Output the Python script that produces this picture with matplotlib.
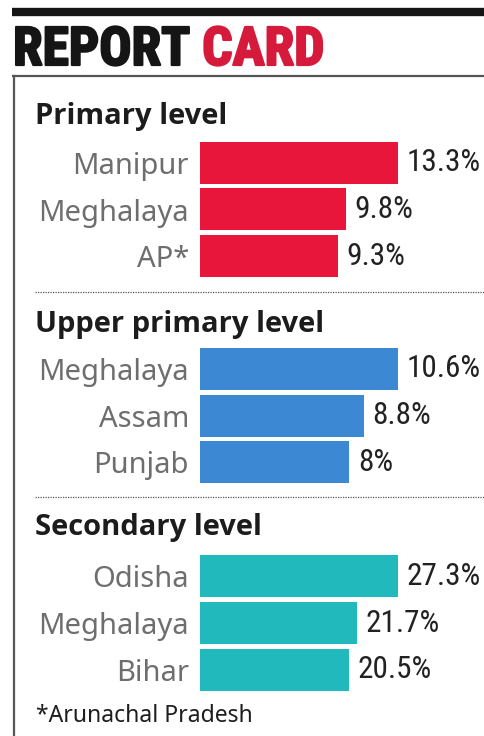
import matplotlib
matplotlib.use("Agg")
import matplotlib.pyplot as plt
import matplotlib.patheffects as pe
from matplotlib.lines import Line2D
from matplotlib import font_manager

# data
primary_states = ["Manipur", "Meghalaya", "AP*"]
primary_values = [13.3, 9.8, 9.3]
upper_states = ["Meghalaya", "Assam", "Punjab"]
upper_values = [10.6, 8.8, 8.0]
secondary_states = ["Odisha", "Meghalaya", "Bihar"]
secondary_values = [27.3, 21.7, 20.5]
value_labels_primary = ["13.3%", "9.8%", "9.3%"]
value_labels_upper = ["10.6%", "8.8%", "8%"]
value_labels_secondary = ["27.3%", "21.7%", "20.5%"]

W, H = 485, 736
fig = plt.figure(figsize=(W / 100, H / 100), dpi=100)
fig.patch.set_facecolor("white")


def has_bold(name):
    return any(f.name == name and f.weight >= 700
               for f in font_manager.fontManager.ttflist)


# heading font: wide-ish bold sans
HEAD = "DejaVu Sans"
for cand in ["Open Sans", "Noto Sans", "Roboto"]:
    if has_bold(cand):
        HEAD = cand
        break

COND = ["Roboto Condensed", "DejaVu Sans"]


def fx(px):
    return px / W


def fy(py):
    return 1 - py / H


def hline(x0, x1, y, **kw):
    fig.add_artist(Line2D([fx(x0), fx(x1)], [fy(y), fy(y)],
                          transform=fig.transFigure, **kw))


# top rule + title
hline(12, 485, 12, color="#151515", lw=6, solid_capstyle="butt")
t1 = fig.text(fx(13), fy(65), "REPORT", family=COND, weight="bold",
              fontsize=38.5, color="#151515", va="baseline")
t1.set_path_effects([pe.withStroke(linewidth=1.6, foreground="#151515")])
fig.canvas.draw()
x_end = t1.get_window_extent().x1
t2 = fig.text(fx(x_end + 12), fy(65), "CARD", family=COND, weight="bold",
              fontsize=38.5, color="#d61a3c", va="baseline")
t2.set_path_effects([pe.withStroke(linewidth=1.6, foreground="#d61a3c")])

# box
hline(12, 485, 76, color="#555555", lw=1.6, solid_capstyle="butt")
fig.add_artist(Line2D([fx(13.5), fx(13.5)], [fy(75.5), fy(736)],
                      transform=fig.transFigure, color="#555555", lw=1.6))

# dotted separators
for y in [292, 497]:
    hline(35, 485, y, color="#555555", lw=0.9, linestyle=(0, (1, 1)))

panels = [
    ("Primary level", 124, 139.5, primary_states, primary_values,
     value_labels_primary, "#e8163a"),
    ("Upper primary level", 332, 345.5, upper_states, upper_values,
     value_labels_upper, "#3c88d2"),
    ("Secondary level", 535, 553, secondary_states, secondary_values,
     value_labels_secondary, "#21b9bb"),
]

for title, ty, top, states, vals, vlabels, color in panels:
    fig.text(fx(35), fy(ty), title, family=HEAD, weight="bold",
             fontsize=21, color="#1c1c1c", va="baseline")
    ax = fig.add_axes([fx(200), fy(top + 140), fx(198), 140 / H])
    bars = ax.barh(range(len(vals)), vals, height=0.9, color=color)
    ax.set_xlim(0, max(vals))
    ax.set_ylim(len(vals) - 0.5, -0.5)
    ax.set_yticks(range(len(states)))
    ax.set_yticklabels(states, family="Noto Sans", fontsize=21,
                       color="#6e6e6e")
    ax.tick_params(axis="y", length=0, pad=8)
    ax.set_xticks([])
    for s in ax.spines.values():
        s.set_visible(False)
    ax.patch.set_alpha(0)
    lbls = ax.bar_label(bars, labels=vlabels, padding=6, family=COND,
                        fontsize=22.5, color="#222222")
    for t in lbls:
        t.set_clip_on(False)

fig.text(fx(36), fy(722), "*Arunachal Pradesh", family="Noto Sans",
         fontsize=16.5, color="#1e1e1e", va="baseline")

fig.savefig("out.png", dpi=100, facecolor="white")
